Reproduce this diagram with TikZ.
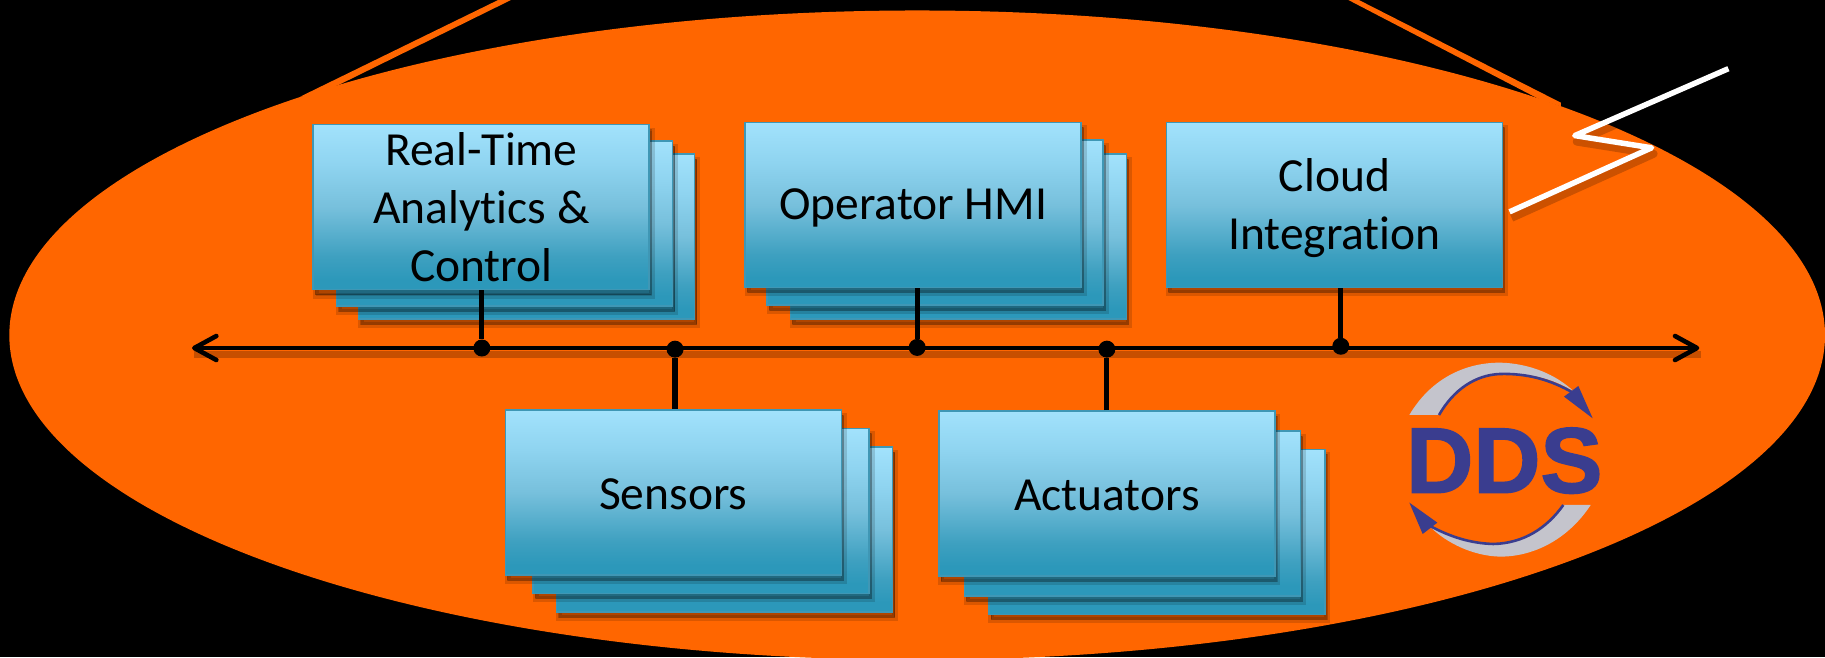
\documentclass[tikz,border=0pt]{standalone}
\usepackage{fontspec}
\setmainfont[Ligatures=NoCommon]{Carlito}
\newfontfamily\logofont[FakeBold=1.6]{Liberation Sans Bold}
\usetikzlibrary{arrows.meta,shadings}
\definecolor{orng}{HTML}{FF6600}
\definecolor{boxedge}{HTML}{3F97B5}
\definecolor{ddsblue}{HTML}{3A3D8F}
\definecolor{ddsgray}{HTML}{C4C4CC}
\definecolor{shTop}{HTML}{A2E2FC}
\definecolor{shUp}{HTML}{8FD4F0}
\definecolor{shMid}{HTML}{77C0DC}
\definecolor{shLow}{HTML}{3EA0C0}
\definecolor{shBot}{HTML}{2C98BA}
\pgfdeclareverticalshading{boxshade}{100bp}{
  color(0bp)=(shBot); color(25bp)=(shBot); color(28bp)=(shBot);
  color(35bp)=(shLow); color(50bp)=(shMid); color(63bp)=(shUp); color(75bp)=(shTop); color(100bp)=(shTop)}
\tikzset{
  softshadow/.style={
    preaction={draw=black,fill=black,line width=6pt,opacity=.14,transform canvas={xshift=2.5pt,yshift=-6pt}},
    preaction={draw=black,fill=black,line width=.5pt,opacity=.2,transform canvas={xshift=2pt,yshift=-5pt}}},
  stackbox/.style={rectangle,draw=boxedge,line width=1.6pt,shading=boxshade,softshadow,
    minimum width=336pt,minimum height=165pt,inner sep=0pt},
  boxlabel/.style={align=center,inner sep=0pt,font=\fontsize{47.5}{58}\selectfont,text=black},
  lineshadow/.style={preaction={draw=black,opacity=.22,line width=7pt,line cap=butt,-,transform canvas={xshift=2pt,yshift=-6pt}}},
  busline/.style={draw=black,line width=4.6pt,line cap=round},
  riser/.style={draw=black,line width=5.2pt,line cap=butt},
  dotnode/.style={circle,fill=black,minimum size=17pt,inner sep=0pt},
  zigzag/.style={draw=white,line width=5.5pt,line join=round},
  zigshadow/.style={draw=black,opacity=.2,line width=8pt,line join=round},
}
\begin{document}
\begin{tikzpicture}[x=1.16390pt,y=-1.16390pt]
\useasboundingbox[fill=black] (0,0) rectangle (1568,564.5);
\clip (0,0) rectangle (1568,564.5);
% orange rays and ellipse
\fill[orng] (428,0) -- (439,0) -- (292,72.5) -- (270,82) -- (258,83) -- cycle;
\fill[orng] (1158.5,0) -- (1167.5,0) -- (1341,88.2) -- (1341,91.5) -- (1323,85.5) -- cycle;
\fill[orng] (788,288) ellipse [x radius=780,y radius=279];
% stacks
\foreach \nm/\cx/\cy/\dx/\dy/\ex/\ey in {
  a/413.5/178/20/14/39/25,
  b/784.5/176/19/15/39/27,
  s/578.5/423/24/16/44/32,
  t/951/424/22/17/43/33}{
  \node[stackbox] (\nm3) at (\cx+\ex,\cy+\ey) {};
  \node[stackbox] (\nm2) at (\cx+\dx,\cy+\dy) {};
}
\node[stackbox,label={[boxlabel]center:{Real-Time\\Analytics \&\\Control}}] (rta) at (413.5,178) {};
\node[stackbox,label={[boxlabel,yshift=-3pt]center:{Operator HMI}}] (hmi) at (784.5,176) {};
\node[stackbox,label={[boxlabel,yshift=-3.5pt]center:{Cloud\\Integration}}] (cloud) at (1146.5,176) {};
\node[stackbox,label={[boxlabel,yshift=-1.5pt]center:{Sensors}}] (sensors) at (578.5,423) {};
\node[stackbox,label={[boxlabel,yshift=-1.5pt]center:{Actuators}}] (actuators) at (951,424) {};
% bus
\coordinate (busL) at (165,299);
\coordinate (busR) at (1460,299);
\node[dotnode] (d1) at (414,299) {};
\node[dotnode] (d2) at (580,300) {};
\node[dotnode] (d3) at (788,298.5) {};
\node[dotnode] (d4) at (951,300) {};
\node[dotnode] (d5) at (1152,297.5) {};
\draw[busline,lineshadow,{Straight Barb[length=22pt,width=24pt,line width=4.6pt,round]}-{Straight Barb[length=22pt,width=24pt,line width=4.6pt,round]}] (busL) -- (busR);
\draw[riser] (rta.south -| d1) -- (d1);
\draw[riser] (hmi.south -| d3) -- (d3);
\draw[riser] (cloud.south -| d5) -- (d5);
\draw[riser] (sensors.north -| d2) -- (d2);
\draw[riser] (actuators.north -| d4) -- (d4);
% lightning
\coordinate (z1) at (1485,59);
\coordinate (z2) at (1353,116.5);
\coordinate (z3) at (1419,127);
\coordinate (z4) at (1297,182);
\begin{scope}
\clip (788,288) ellipse [x radius=780,y radius=279];
\draw[zigshadow,transform canvas={xshift=2pt,yshift=-6pt}] (z1) -- (z2) -- (z3) -- (z4);
\end{scope}
\draw[zigzag] (z1) -- (z2) -- (z3) -- (z4);
% DDS logo, coordinates in a 3x zoom of the reference
\begin{scope}[shift={(1159.9,292.1)},x=.33333pt,y=-.33333pt]
\fill[ddsgray] (178,225) .. controls (240,120) and (340,68) .. (450,68)
  .. controls (540,70) and (620,105) .. (672,155)
  .. controls (600,110) and (530,100) .. (450,100)
  .. controls (375,105) and (310,150) .. (265,225) -- cycle;
\draw[ddsblue,line width=2.6pt] (267,225) .. controls (310,150) and (375,105) .. (450,102)
  .. controls (530,100) and (600,118) .. (672,160);
\fill[ddsblue] (728,235) -- (642,170) -- (685,138) -- cycle;
\fill[ddsgray] (722,495) .. controls (660,590) and (560,650) .. (450,650)
  .. controls (370,648) and (290,610) .. (240,560)
  .. controls (300,595) and (370,612) .. (430,614)
  .. controls (520,612) and (590,565) .. (640,495) -- cycle;
\draw[ddsblue,line width=2.6pt] (640,495) .. controls (590,565) and (520,610) .. (430,612)
  .. controls (360,610) and (300,590) .. (240,558);
\fill[ddsblue] (178,488) -- (262,548) -- (218,582) -- cycle;
\node[anchor=center,inner sep=0pt,text=ddsblue] (dds) at (463,362)
  {\logofont\fontsize{93}{93}\selectfont DDS};
\end{scope}
\end{tikzpicture}
\end{document}
